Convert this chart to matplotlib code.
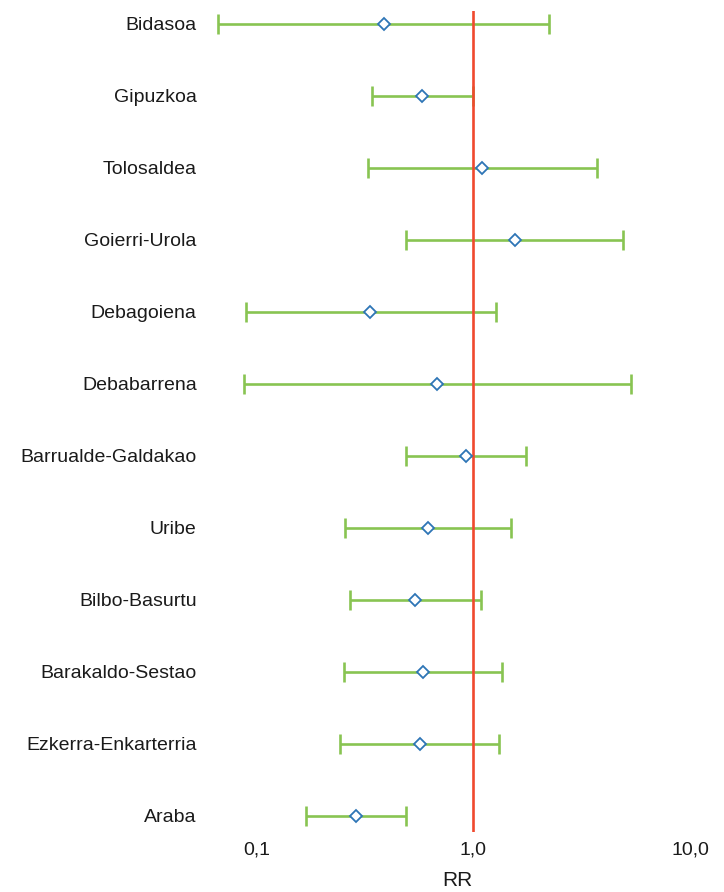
import numpy as np
import matplotlib
matplotlib.use("Agg")
import matplotlib.pyplot as plt
from matplotlib.ticker import FixedLocator, FixedFormatter

# Regions, top to bottom
regions = ["Bidasoa", "Gipuzkoa", "Tolosaldea", "Goierri-Urola", "Debagoiena",
           "Debabarrena", "Barrualde-Galdakao", "Uribe", "Bilbo-Basurtu",
           "Barakaldo-Sestao", "Ezkerra-Enkarterria", "Araba"]
rr = [0.386, 0.581, 1.094, 1.549, 0.334, 0.681, 0.923, 0.617, 0.539, 0.583, 0.565, 0.287]
ci_low = [0.0665, 0.342, 0.325, 0.490, 0.0892, 0.0876, 0.490, 0.255, 0.270, 0.253, 0.243, 0.170]
ci_high = [2.24, 0.99, 3.72, 4.89, 1.27, 5.34, 1.746, 1.483, 1.083, 1.349, 1.306, 0.489]

xticks = [0.1, 1.0, 10.0]
xtick_labels = ["0,1", "1,0", "10,0"]

plt.rcParams["font.family"] = ["Liberation Sans", "DejaVu Sans"]

GREEN = "#88c452"
BLUE = "#2e75b6"
RED = "#f0492e"

fig = plt.figure(figsize=(7.24, 8.92), dpi=100)
ax = fig.add_axes([205 / 724, 1 - 832 / 892, (710 - 205) / 724, (832 - 11) / 892])

n = len(regions)
y = np.arange(n)[::-1]
rr_a = np.array(rr)
lo = rr_a - np.array(ci_low)
hi = np.array(ci_high) - rr_a

ax.errorbar(rr_a, y, xerr=[lo, hi], fmt="none", ecolor=GREEN,
            elinewidth=1.9, capsize=7.5, capthick=1.9, zorder=2)
ax.axvline(1.0, color=RED, lw=1.9, zorder=3)
ax.plot(rr_a, y, linestyle="none", marker="D", markersize=6.5,
        markerfacecolor="white", markeredgecolor=BLUE, markeredgewidth=1.3, zorder=4)

ax.set_xscale("log")
ax.set_xlim(10 ** -1.237, 10 ** 1.09)
ax.set_ylim(-16 / 72, n - 1 + 13 / 72)

ax.xaxis.set_major_locator(FixedLocator(xticks))
ax.xaxis.set_major_formatter(FixedFormatter(xtick_labels))
ax.xaxis.set_minor_locator(FixedLocator([]))
ax.set_yticks(y)
ax.set_yticklabels(regions)
ax.tick_params(axis="both", length=0, labelsize=14, colors="#1a1a1a")
ax.tick_params(axis="x", pad=7)
ax.tick_params(axis="y", pad=6)
ax.set_xlabel("RR", fontsize=15, color="#1a1a1a", labelpad=9)

for s in ax.spines.values():
    s.set_visible(False)

fig.savefig("out.png", dpi=100)
